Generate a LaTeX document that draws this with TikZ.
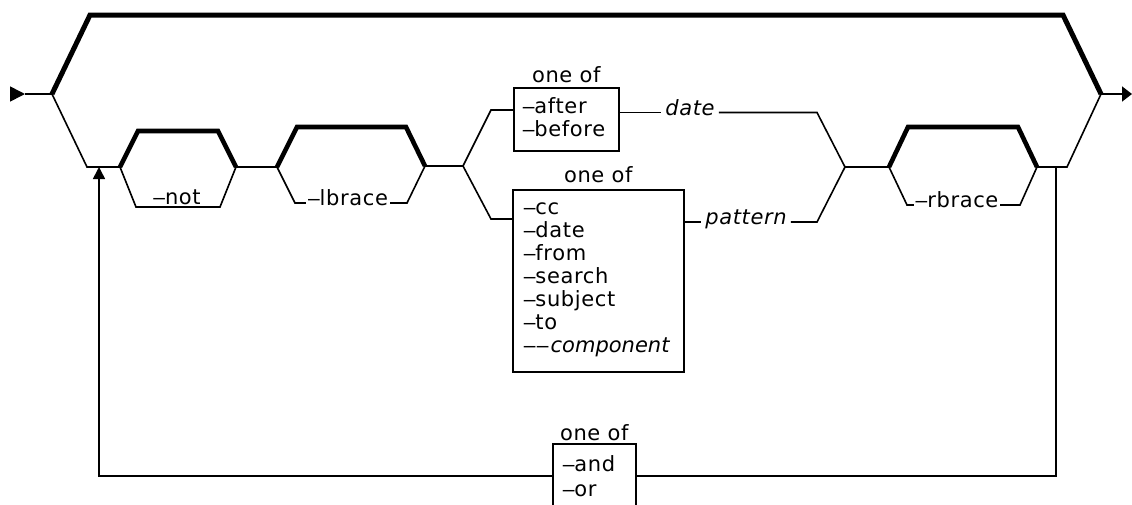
\documentclass[tikz,border=0pt]{standalone}
\usepackage{fontspec}
\setmainfont{DejaVu Sans}[LetterSpace=3]
\newfontfamily\dashfont{Liberation Sans}
\newcommand\dd{{\dashfont –}}
\usetikzlibrary{arrows.meta,calc}
\begin{document}
\begin{tikzpicture}[x=1pt,y=-1pt,
  ln/.style={line width=1.6pt},
  heavy/.style={line width=4.6pt},
  mainheavy/.style={line width=5pt},
  every node/.style={font=\fontsize{21}{23}\selectfont},
  box/.style={draw, line width=1.6pt, align=left, anchor=north west},
  lbl/.style={fill=white, inner xsep=2pt, inner ysep=1pt, anchor=mid},
  itl/.style={inner xsep=4pt, anchor=mid, font=\fontsize{21}{23}\selectfont\itshape},
  oneof/.style={anchor=base},
  tipA/.style={-{Triangle[length=15pt,width=15pt]}},
  tipB/.style={-{Triangle[length=10pt,width=15pt]}},
  tipC/.style={-{Triangle[length=12pt,width=12pt]}}]
\useasboundingbox (0,0) rectangle (1132,504);
\clip (0,0) rectangle (1132,504);

% ---- boxes ----
\node[box, text width=87pt, inner xsep=9pt, inner ysep=9.6pt] (b1) at (513,87)
  {\strut\dd after\\\dd before\rule[-4.7pt]{0pt}{1pt}};
\node[box, text width=149pt, inner xsep=11pt, inner ysep=8.6pt] (b2) at (512,189)
  {\strut\dd cc\\\dd date\\\dd from\\\dd search\\\dd subject\\\dd to\\\leavevmode\rlap{\dd\kern1.5pt\dd\kern2pt{\itshape\addfontfeature{LetterSpace=0}component}}\rule[-10.7pt]{0pt}{1pt}};
\node[box, text width=63pt, inner xsep=10pt, inner ysep=11.6pt] (b3) at (552,443)
  {\strut\dd and\\[2pt]\dd or\rule[-30pt]{0pt}{1pt}};
\node[oneof] (o1) at ([yshift=5pt]b1.north) {one of};
\node[oneof] (o2) at ([yshift=7pt]b2.north) {one of};
\node[oneof] (o3) at ([yshift=3pt]b3.north) {one of};

% ---- italic labels ----
\node[itl] (date) at (690,112.5) {date};
\node[itl] (pat) at (746,222) {pattern};

% ---- coordinates ----
\coordinate (S0) at (10,94);
\coordinate (S1) at (25,94);
\coordinate (J0) at (52,94);
\coordinate (T1) at (90,15);
\coordinate (T2) at (1063,15);
\coordinate (JE) at (1101,94);
\coordinate (E0) at (1132,94);
\coordinate (A1) at (87,167);
\coordinate (N1) at (120,167);
\coordinate (N2) at (236,167);
\coordinate (L1) at (277,167);
\coordinate (L2) at (425,166);
\coordinate (BR) at (463,166);
\coordinate (U1) at (491,110);
\coordinate (D1) at (491,219);
\coordinate (C1) at (817,112.5);
\coordinate (C2) at (817,222);
\coordinate (M) at (845,167);
\coordinate (R1) at (889,167);
\coordinate (R2) at (1037,167);
\coordinate (RX) at (1067,167);
\coordinate (LP) at (1056,167);
\coordinate (LPB) at (1056,476);
\coordinate (LLB) at (99,476);
\coordinate (LLT) at (99,167);

% ---- main entry / exit ----
\draw[ln, tipA] (S0) -- (S1);
\draw[ln] (S1) -- (J0);
\draw[mainheavy, line join=miter] (J0) -- (T1) -- (T2) -- (JE);
\draw[ln, tipB] (JE) -- (E0);
\draw[ln] (J0) -- (A1) -- (N1);

% ---- -not ----
\draw[heavy] (N1) -- (138,131) -- (218,131) -- (N2);
\draw[ln] (N1) -- (136,207) -- (220,207) -- (N2);
\node[lbl] (notl) at (177,202) {\dd not};

\draw[ln] (N2) -- (L1);

% ---- lbrace ----
\draw[heavy] (L1) -- (297,127) -- (406,127) -- (L2);
\draw[ln] (L1) -- (295,203) -- (407,203) -- (L2);
\node[lbl] (lbl) at (348,202.5) {\dd lbrace};

% ---- option branch ----
\draw[ln] (L2) -- (BR);
\draw[ln] (BR) -- (U1) -- (U1 -| b1.west);
\draw[ln] (BR) -- (D1) -- (D1 -| b2.west);
\draw[ln] (date.mid west -| b1.east) -- (date.mid west);
\draw[ln] (date.mid east) -- (C1) -- (M);
\draw[ln] (pat.mid west -| b2.east) -- (pat.mid west);
\draw[ln] (pat.mid east) -- (C2) -- (M);
\draw[ln] (M) -- (R1);

% ---- rbrace ----
\draw[heavy] (R1) -- (908,127) -- (1018,127) -- (R2);
\draw[ln] (R1) -- (907,205) -- (1020,205) -- (R2);
\node[lbl] (rbl) at (957,204.5) {\dd rbrace};

\draw[ln] (R2) -- (RX) -- (JE);

% ---- loop back ----
\draw[ln] (LP) -- (LPB) -- (LPB -| b3.east);
\draw[ln, tipC] (LLB -| b3.west) -- (LLB) -- (LLT);
\end{tikzpicture}
\end{document}
